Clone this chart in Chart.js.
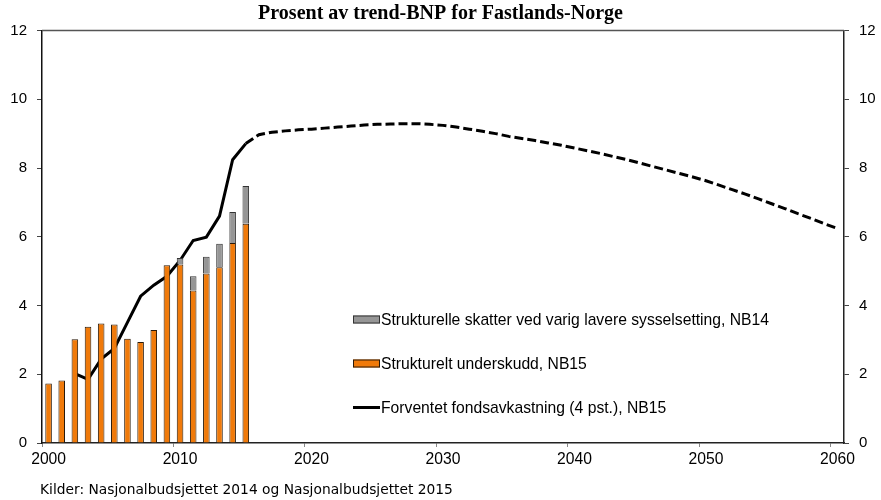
<!DOCTYPE html>
<html>
<head>
<meta charset="utf-8">
<script src="https://cdn.jsdelivr.net/npm/chart.js@4.4.1/dist/chart.umd.min.js"></script>
<style>
    body { margin: 0; background: #fff; }
    #wrap { position: relative; width: 881px; height: 500px; }
    #kilder { position: absolute; left: 40px; top: 481px; font: 13.8px "DejaVu Sans"; color: #000; white-space: nowrap; }
</style>
</head>
<body>
<div id="wrap">
    <canvas id="myChart" width="881" height="500"></canvas>
    <div id="kilder">Kilder: Nasjonalbudsjettet 2014 og Nasjonalbudsjettet 2015</div>
</div>
<script>
// søyler, 2000-2015
var barYears = [2000, 2001, 2002, 2003, 2004, 2005, 2006, 2007, 2008, 2009, 2010, 2011, 2012, 2013, 2014, 2015];
var underskudd = [1.73, 1.82, 3.02, 3.38, 3.48, 3.45, 3.03, 2.94, 3.29, 5.17, 5.19, 4.44, 4.93, 5.11, 5.82, 6.38];
var skatter = [null, null, null, null, null, null, null, null, null, null, 0.19, 0.41, 0.49, 0.69, 0.90, 1.10];

// forventet fondsavkastning, faktisk
var lineYears = [2002, 2003, 2004, 2005, 2006, 2007, 2008, 2009, 2010, 2011, 2012, 2013, 2014, 2015];
var avkastning = [2.02, 1.85, 2.44, 2.75, 3.51, 4.27, 4.59, 4.85, 5.31, 5.89, 5.99, 6.60, 8.24, 8.71];

// framskrivning 2015-2060
var prognoseYears = [2015, 2016, 2017, 2018, 2019, 2020, 2021, 2022, 2023, 2024, 2025, 2026, 2027, 2028, 2029,
    2030, 2031, 2032, 2033, 2034, 2035, 2036, 2037, 2038, 2039, 2040, 2041, 2042, 2043, 2044, 2045,
    2046, 2047, 2048, 2049, 2050, 2051, 2052, 2053, 2054, 2055, 2056, 2057, 2058, 2059, 2060];
var prognose = [8.71, 8.97, 9.04, 9.08, 9.11, 9.13, 9.16, 9.19, 9.22, 9.25, 9.27, 9.28, 9.29, 9.29, 9.27,
    9.24, 9.19, 9.13, 9.07, 9.00, 8.92, 8.86, 8.80, 8.73, 8.66, 8.58, 8.50, 8.42, 8.33, 8.24, 8.14,
    8.04, 7.94, 7.84, 7.74, 7.63, 7.50, 7.37, 7.24, 7.10, 6.96, 6.82, 6.67, 6.53, 6.38, 6.24];

var xTicks = [2000, 2010, 2020, 2030, 2040, 2050, 2060];
var yTicks = [0, 2, 4, 6, 8, 10, 12];

// hvert år er en "kategori", merket midt i intervallet
function points(years, values) {
    return years.map(function (yr, i) {
        return { x: yr + 0.5, y: values[i] };
    });
}

function setTicks(list) {
    return function (scale) {
        scale.ticks = list.map(function (v) { return { value: v }; });
    };
}

// topp-ramme og forklaring inne i plottet
var forklaring = {
    id: 'forklaring',
    afterDraw: function (chart) {
        var ctx = chart.ctx;
        var a = chart.chartArea;
        ctx.save();
        ctx.strokeStyle = '#555';
        ctx.lineWidth = 1.5;
        ctx.beginPath();
        ctx.moveTo(a.left, a.top);
        ctx.lineTo(a.right, a.top);
        ctx.stroke();

        var order = [1, 0, 2];
        var lx = a.left + 311;
        var ly = a.top + 289;
        ctx.font = '15.7px "Liberation Sans", Arial, sans-serif';
        ctx.textBaseline = 'middle';
        ctx.fillStyle = '#000';
        order.forEach(function (idx, row) {
            var ds = chart.data.datasets[idx];
            var y = ly + row * 44;
            if (ds.type === 'line') {
                ctx.strokeStyle = ds.borderColor;
                ctx.lineWidth = 3;
                ctx.beginPath();
                ctx.moveTo(lx, y);
                ctx.lineTo(lx + 27, y);
                ctx.stroke();
            } else {
                ctx.fillStyle = ds.backgroundColor;
                ctx.fillRect(lx, y - 4, 27, 8);
                ctx.strokeStyle = ds.borderColor;
                ctx.lineWidth = 1;
                ctx.strokeRect(lx + 0.5, y - 3.5, 26, 7);
            }
            ctx.fillStyle = '#000';
            ctx.fillText(ds.label, lx + 28, y + 1);
        });
        ctx.restore();
    }
};

Chart.defaults.font.family = '"Liberation Sans", Arial, sans-serif';
Chart.defaults.font.size = 15;
Chart.defaults.color = '#000';

var ctx = document.getElementById('myChart').getContext('2d');
var myChart = new Chart(ctx, {
    type: 'bar',
    data: {
        datasets: [
            {
                label: 'Strukturelt underskudd, NB15',
                data: points(barYears, underskudd),
                backgroundColor: '#F07A0A',
                borderColor: '#2a1a0a',
                borderWidth: 1,
                yAxisID: 'y',
                stack: 'soyler',
                barPercentage: 0.5,
                categoryPercentage: 1
            },
            {
                label: 'Strukturelle skatter ved varig lavere sysselsetting, NB14',
                data: points(barYears, skatter),
                backgroundColor: '#969696',
                borderColor: '#333',
                borderWidth: 1,
                yAxisID: 'y',
                stack: 'soyler',
                barPercentage: 0.5,
                categoryPercentage: 1
            },
            {
                type: 'line',
                label: 'Forventet fondsavkastning (4 pst.), NB15',
                data: points(lineYears, avkastning),
                borderColor: '#000',
                borderWidth: 3,
                pointRadius: 0,
                tension: 0,
                yAxisID: 'y2'
            },
            {
                type: 'line',
                label: 'Framskrivning',
                data: points(prognoseYears, prognose),
                borderColor: '#000',
                borderWidth: 3,
                borderDash: [9, 4],
                pointRadius: 0,
                tension: 0,
                yAxisID: 'y2'
            }
        ]
    },
    options: {
        responsive: false,
        devicePixelRatio: 1,
        animation: false,
        layout: { padding: { left: 0, right: 0, top: 0, bottom: 31 } },
        plugins: {
            legend: { display: false },
            tooltip: { enabled: false },
            title: {
                display: true,
                text: 'Prosent av trend-BNP for Fastlands-Norge',
                font: { family: '"Liberation Serif", "Times New Roman", serif', size: 20, weight: 'bold', lineHeight: 1.2 },
                color: '#000',
                padding: { top: 2, bottom: 4.5 }
            }
        },
        scales: {
            x: {
                type: 'linear',
                min: 2000,
                max: 2061,
                offset: false,
                afterBuildTicks: setTicks(xTicks),
                afterFit: function (scale) { scale.height = 26; },
                grid: { display: true, offset: false, drawOnChartArea: false, drawTicks: true, tickLength: 4, color: '#888' },
                border: { display: true, color: '#222', width: 1.5 },
                ticks: {
                    padding: 3,
                    labelOffset: 6.6,
                    maxRotation: 0,
                    autoSkip: false,
                    font: { size: 15.7 },
                    callback: function (v) { return String(v); }
                }
            },
            y: {
                position: 'left',
                stacked: true,
                min: 0,
                max: 12,
                afterBuildTicks: setTicks(yTicks),
                afterFit: function (scale) { scale.width = 42; },
                grid: { display: true, drawOnChartArea: false, drawTicks: true, tickLength: 5, color: '#444' },
                border: { display: true, color: '#111', width: 1.5 },
                ticks: { padding: 10 }
            },
            y2: {
                position: 'right',
                min: 0,
                max: 12,
                afterBuildTicks: setTicks(yTicks),
                afterFit: function (scale) { scale.width = 37; },
                grid: { display: true, drawOnChartArea: false, drawTicks: true, tickLength: 5, color: '#444' },
                border: { display: true, color: '#222', width: 1.5 },
                ticks: { padding: 10 }
            }
        }
    },
    plugins: [forklaring]
});
</script>
</body>
</html>
